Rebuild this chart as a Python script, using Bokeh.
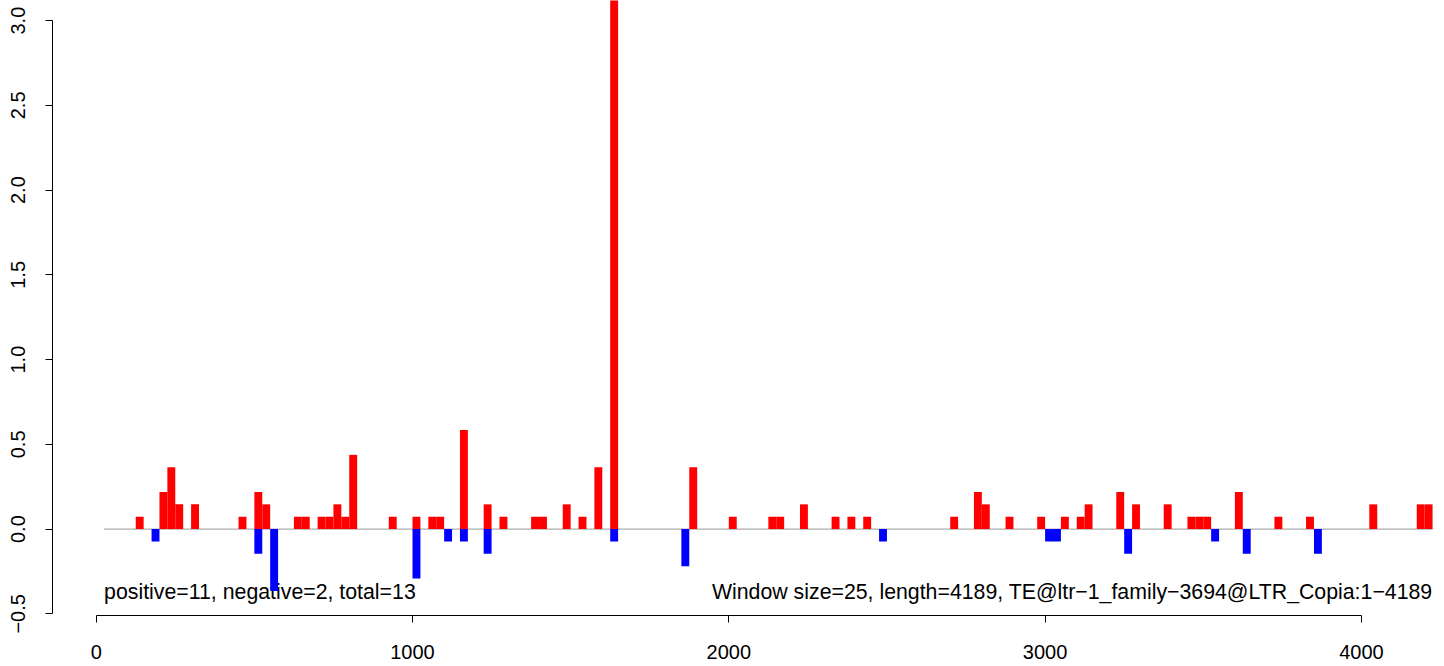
from bokeh.plotting import figure
from bokeh.models import Range1d, FixedTicker
from bokeh.core.properties import value
from bokeh.embed import file_html
from bokeh.resources import INLINE

# ---- data (window start positions, window size 25) ----
window = 25
pos_start = [125, 200, 225, 250, 300, 450, 500, 525, 625, 650, 700, 725, 750, 775, 800,
             925, 1000, 1050, 1075, 1150, 1225, 1275, 1375, 1400, 1475, 1525, 1575, 1625,
             1875, 2000, 2125, 2150, 2225, 2325, 2375, 2425, 2700, 2775, 2800, 2875, 2975,
             3050, 3100, 3125, 3225, 3275, 3375, 3450, 3475, 3500, 3600, 3725, 3825, 4025,
             4175, 4200]
pos_value = [0.073, 0.219, 0.365, 0.146, 0.146, 0.073, 0.219, 0.146, 0.073, 0.073, 0.073,
             0.073, 0.146, 0.073, 0.438, 0.073, 0.073, 0.073, 0.073, 0.584, 0.146, 0.073,
             0.073, 0.073, 0.146, 0.073, 0.365, 3.5, 0.365, 0.073, 0.073, 0.073, 0.146,
             0.073, 0.073, 0.073, 0.073, 0.219, 0.146, 0.073, 0.073, 0.073, 0.073, 0.146,
             0.219, 0.146, 0.146, 0.073, 0.073, 0.073, 0.219, 0.073, 0.073, 0.146, 0.146,
             0.146]
neg_start = [175, 500, 550, 1000, 1100, 1150, 1225, 1625, 1850, 2475, 3000, 3025, 3250,
             3525, 3625, 3850]
neg_value = [-0.073, -0.146, -0.365, -0.292, -0.073, -0.073, -0.146, -0.073, -0.219,
             -0.073, -0.073, -0.073, -0.146, -0.073, -0.146, -0.146]
line_start, line_end = 25, 4225
x_ticks = [0, 1000, 2000, 3000, 4000]
y_ticks = [-0.5, 0.0, 0.5, 1.0, 1.5, 2.0, 2.5, 3.0]
y_tick_labels = ["\u22120.5", "0.0", "0.5", "1.0", "1.5", "2.0", "2.5", "3.0"]
left_note = "positive=11, negative=2, total=13"
right_note = "Window size=25, length=4189, TE@ltr\u22121_family\u22123694@LTR_Copia:1\u22124189"

FONT = "Liberation Sans"

p = figure(width=1444, height=666, output_backend="svg", toolbar_location=None,
           x_range=Range1d(-138.2, 4262.7), y_range=Range1d(-0.5097, 3.1186),
           min_border_left=52, min_border_right=0, min_border_top=0, min_border_bottom=51)
p.background_fill_color = "white"
p.border_fill_color = "white"
p.outline_line_color = None
p.xgrid.visible = False
p.ygrid.visible = False

# notes first (bars drawn over them)
p.text(x=[line_start], y=[-0.371], text=[left_note], text_font=value(FONT),
       text_font_size="21.3px", text_baseline="alphabetic", text_align="left", text_color="black")
p.text(x=[line_end], y=[-0.371], text=[right_note], text_font=value(FONT),
       text_font_size="21.3px", text_baseline="alphabetic", text_align="right", text_color="black")

# baseline
p.segment(x0=[line_start], y0=[0], x1=[line_end], y1=[0], line_color="#999999", line_width=1)

pos_right = [s + window for s in pos_start]
neg_right = [s + window for s in neg_start]
p.quad(left=pos_start, right=pos_right, bottom=0, top=pos_value,
       fill_color="#FF0000", line_color=None)
p.quad(left=neg_start, right=neg_right, bottom=neg_value, top=0,
       fill_color="#0000FF", line_color=None)

for ax in (p.xaxis[0], p.yaxis[0]):
    ax.axis_line_color = "black"
    ax.axis_line_width = 1
    ax.major_tick_line_color = "black"
    ax.major_tick_out = 7
    ax.major_tick_in = 0
    ax.minor_tick_line_color = None
    ax.major_label_text_font = FONT
    ax.major_label_text_font_size = "20px"
    ax.major_label_text_color = "black"

p.xaxis.ticker = FixedTicker(ticks=x_ticks)
p.xaxis.bounds = (x_ticks[0], x_ticks[-1])
p.xaxis.major_label_standoff = 22

p.yaxis.ticker = FixedTicker(ticks=y_ticks)
p.yaxis.bounds = (y_ticks[0], y_ticks[-1])
p.yaxis.major_label_overrides = {t: l for t, l in zip(y_ticks, y_tick_labels)}
p.yaxis.major_label_orientation = "vertical"
p.yaxis.major_label_standoff = 20

open("out.html", "w").write(file_html(p, INLINE))
